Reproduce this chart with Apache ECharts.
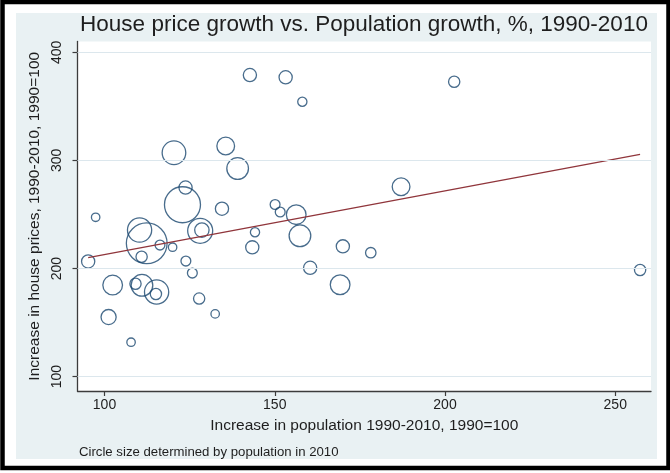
<!DOCTYPE html>
<html>
<head>
<meta charset="utf-8">
<script src="https://cdn.jsdelivr.net/npm/echarts@6/dist/echarts.min.js"></script>
<style>
  html, body { margin: 0; padding: 0; background: #fff; }
  #chart { width: 670px; height: 473px; }
</style>
</head>
<body>
<div id="chart"></div>
<script>
// 人口增长 (x) / 房价增长 (y) / 2010 人口 (百万, 决定圆大小)
const popGrowth = [97.4, 95.2, 101.2, 102.4, 107.8, 109.1, 110.3, 110.9, 111.0, 112.4,
  115.3, 115.1, 116.3, 120.0, 120.4, 122.9, 123.8, 123.9, 125.8, 127.8,
  128.1, 128.6, 132.5, 134.5, 135.6, 139.1, 142.7, 144.2, 143.4, 150.1,
  151.6, 156.3, 157.4, 153.2, 158.1, 160.4, 169.2, 170.0, 178.2, 187.1,
  202.7, 257.3];
const priceGrowth = [247.4, 206.5, 155.1, 184.7, 131.8, 185.9, 235.6, 210.9, 184.5, 223.3,
  178.3, 176.4, 221.7, 219.7, 307.1, 259.0, 274.9, 206.9, 195.8, 172.2,
  234.9, 235.6, 158.0, 255.3, 313.3, 292.5, 379.0, 233.6, 219.6, 259.2,
  252.3, 249.8, 230.3, 376.9, 354.3, 200.7, 185.0, 220.5, 214.6, 275.7,
  372.8, 198.6];
const population = [0.48, 1.17, 1.54, 2.60, 0.48, 0.85, 3.94, 0.85, 3.15, 11.15,
  3.94, 0.85, 0.65, 0.48, 3.75, 8.71, 1.17, 0.65, 0.65, 0.85,
  4.20, 1.39, 0.48, 1.17, 2.11, 3.15, 1.17, 0.57, 1.17, 0.65,
  0.65, 2.60, 3.15, 1.17, 0.57, 1.17, 2.60, 1.17, 0.73, 2.11,
  0.85, 0.85];

// 拟合线两端
const fitX = [95.2, 257.3];
const fitY = [210.0, 305.5];

const xTicks = [100, 150, 200, 250];
const yTicks = [100, 200, 300, 400];

const FONT = '"Liberation Sans", Arial, sans-serif';
const NAVY = '#1a476f';
const MAROON = '#90353b';

let chart = echarts.init(document.getElementById('chart'), null, { renderer: 'canvas' });

const bubbleData = popGrowth.map((x, i) => [x, priceGrowth[i], population[i]]);
const fitData = fitX.map((x, i) => [x, fitY[i]]);

chart.setOption({
  animation: false,
  backgroundColor: '#ffffff',
  textStyle: { fontFamily: FONT },
  graphic: [
    { type: 'rect', z: -10, shape: { x: 16, y: 13, width: 641, height: 446 }, style: { fill: '#e9f1f3' } },
    { type: 'rect', z: 100, shape: { x: 2.5, y: 2, width: 666, height: 466 }, style: { fill: 'none', stroke: '#000', lineWidth: 4.5 } },
    { type: 'text', x: 364, y: 25, style: { text: 'House price growth vs. Population growth, %, 1990-2010', font: '22.5px ' + FONT, fill: '#1e1e1e', align: 'center', verticalAlign: 'middle' } },
    { type: 'text', x: 79, y: 452, style: { text: 'Circle size determined by population in 2010', font: '13.2px ' + FONT, fill: '#1e1e1e', align: 'left', verticalAlign: 'middle' } }
  ],
  grid: {
    left: 77.5, right: 19, top: 41.5, bottom: 82,
    show: true, backgroundColor: '#ffffff', borderWidth: 0
  },
  xAxis: {
    type: 'value', min: 92.07, max: 260.5,
    name: 'Increase in population 1990-2010, 1990=100',
    nameLocation: 'middle', nameGap: 27,
    nameTextStyle: { fontSize: 15.5, color: '#1e1e1e', fontFamily: FONT },
    axisLine: { show: true, onZero: false, lineStyle: { color: '#3c3c3c', width: 1.3 } },
    axisTick: { show: true, length: 5, customValues: xTicks, lineStyle: { color: '#3c3c3c', width: 1.2 } },
    axisLabel: { customValues: xTicks, margin: 7, fontSize: 14, color: '#1e1e1e', fontFamily: FONT },
    splitLine: { show: false }
  },
  yAxis: {
    type: 'value', min: 86.7, max: 410,
    name: 'Increase in house prices, 1990-2010, 1990=100',
    nameLocation: 'middle', nameGap: 35,
    nameTextStyle: { fontSize: 15.5, color: '#1e1e1e', fontFamily: FONT },
    axisLine: { show: true, onZero: false, lineStyle: { color: '#3c3c3c', width: 1.3 } },
    axisTick: { show: true, length: 5, customValues: yTicks, lineStyle: { color: '#3c3c3c', width: 1.2 } },
    axisLabel: { customValues: yTicks, rotate: 90, margin: 13, fontSize: 14, color: '#1e1e1e', fontFamily: FONT },
    splitLine: { show: false }
  },
  series: [
    {
      type: 'scatter',
      data: bubbleData,
      symbol: 'circle',
      symbolSize: (val) => 12.2 * Math.sqrt(val[2]),
      itemStyle: { color: 'rgba(0,0,0,0)', borderColor: NAVY, borderWidth: 1.3 },
      markLine: {
        silent: true, symbol: 'none', label: { show: false },
        lineStyle: { color: '#dce7ed', width: 1.2, type: 'solid' },
        data: yTicks.map(v => ({ yAxis: v }))
      },
      z: 3
    },
    {
      type: 'line',
      data: fitData,
      symbol: 'none',
      lineStyle: { color: MAROON, width: 1.3 },
      z: 4
    }
  ]
});
</script>
</body>
</html>
